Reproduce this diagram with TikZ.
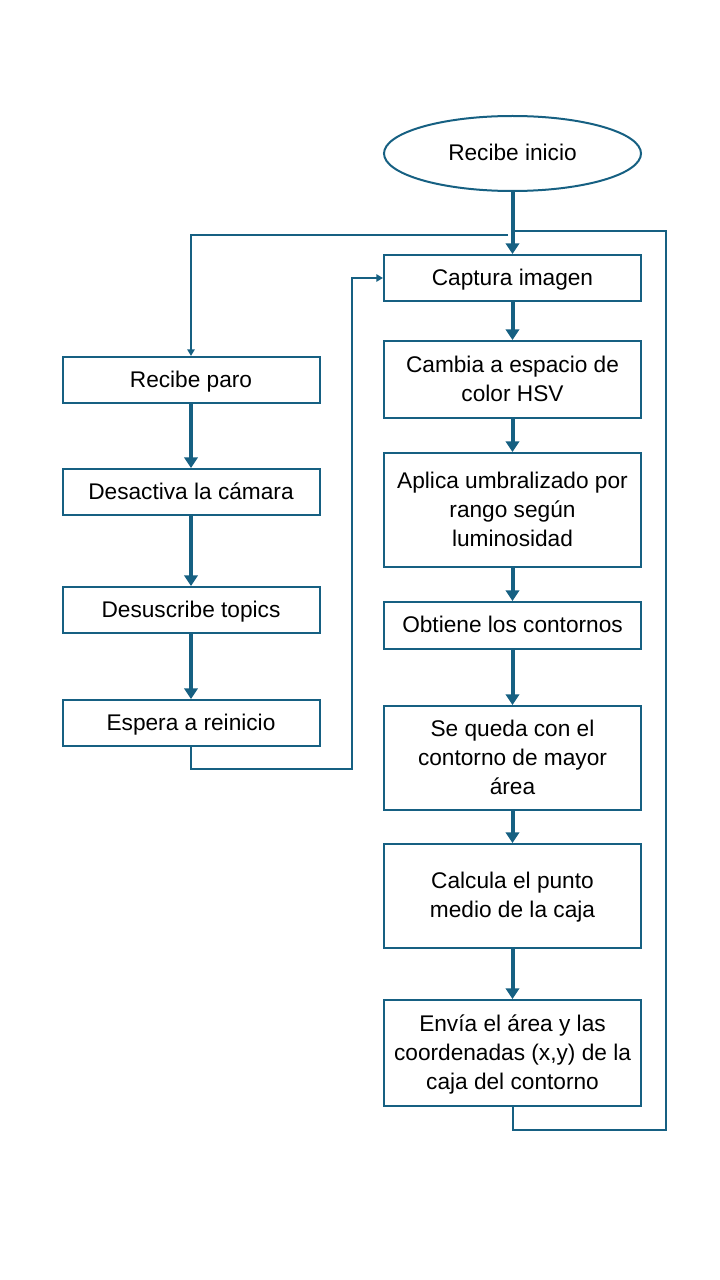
\documentclass[tikz,border=0pt]{standalone}
\usepackage{fontspec}
\setmainfont{Liberation Sans}
\usetikzlibrary{arrows.meta,shapes.geometric}
\definecolor{fc}{RGB}{22,96,130}
\begin{document}
\begin{tikzpicture}[x=0.75pt,y=-0.75pt,
 box/.style={draw=fc,line width=1.5pt,rectangle,minimum width=192.75pt,align=center,font=\fontsize{17}{21.75}\selectfont,inner sep=0pt,text depth=1.5pt},
 main/.style={draw=fc,line width=3pt,-{Triangle[width=10pt,length=8pt]}},
 thin/.style={draw=fc,line width=1.5pt},
 thinarr/.style={thin,-{Triangle[width=5.5pt,length=5pt]}}]
\useasboundingbox (0,0) rectangle (720,1280);
% right column
\node[box,ellipse,minimum height=56.25pt] (start) at (512.5,153.5) {Recibe inicio};
\node[box,minimum height=34.5pt] (cap) at (512.5,278) {Captura imagen};
\node[box,minimum height=57.75pt] (hsv) at (512.5,379.5) {Cambia a espacio de\\color HSV};
\node[box,minimum height=85.5pt] (umb) at (512.5,510) {Aplica umbralizado por\\rango según\\luminosidad};
\node[box,minimum height=35.25pt] (cont) at (512.5,625.5) {Obtiene los contornos};
\node[box,minimum height=78pt] (may) at (512.5,758) {Se queda con el\\contorno de mayor\\área};
\node[box,minimum height=78pt] (pm) at (512.5,896) {Calcula el punto\\medio de la caja};
\node[box,minimum height=79.5pt] (env) at (512.5,1053) {Envía el área y las\\coordenadas (x,y) de la\\caja del contorno};
% left column
\node[box,minimum height=34.5pt] (paro) at (191,380) {Recibe paro};
\node[box,minimum height=34.5pt] (cam) at (191,492) {Desactiva la cámara};
\node[box,minimum height=34.5pt] (top) at (191,610) {Desuscribe topics};
\node[box,minimum height=34.5pt] (esp) at (191,723) {Espera a reinicio};
% main arrows
\draw[main] (start) -- (cap);
\draw[main] (cap) -- (hsv);
\draw[main] (hsv) -- (umb);
\draw[main] (umb) -- (cont);
\draw[main] (cont) -- (may);
\draw[main] (may) -- (pm);
\draw[main] (pm) -- (env);
\draw[main] (paro) -- (cam);
\draw[main] (cam) -- (top);
\draw[main] (top) -- (esp);
% loop back from Envia
\coordinate (lr) at (666,1130);
\coordinate (ur) at (666,231);
\coordinate (j1) at (512.5,231);
\draw[thin] (env.south) |- (lr) -- (ur) -- (j1);
% branch to Recibe paro
\coordinate (j2) at (508,235);
\coordinate (ul) at (191,235);
\draw[thinarr] (j2) -- (ul) -- (paro.north);
% back from Espera to Captura
\coordinate (el) at (352,769);
\coordinate (et) at (352,278);
\draw[thinarr] (esp.south) |- (el) -- (et) -- (cap.west);
\end{tikzpicture}
\end{document}
